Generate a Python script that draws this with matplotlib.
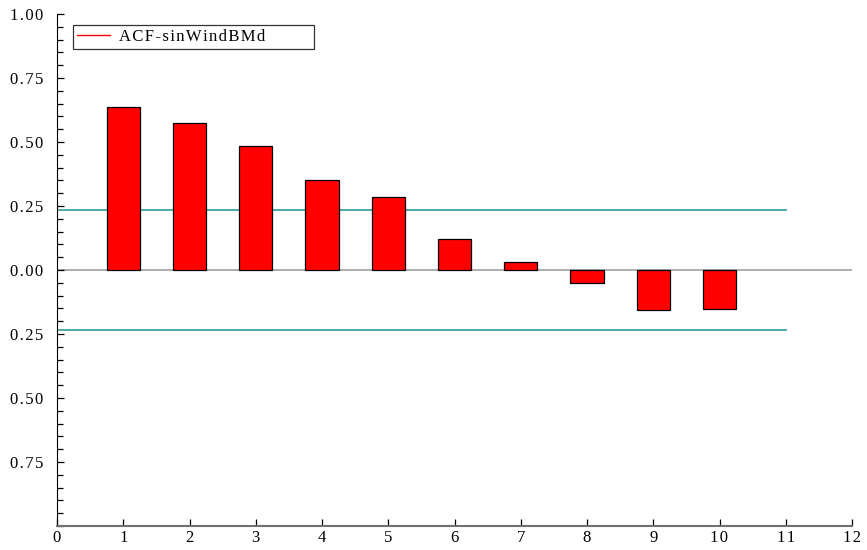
import matplotlib.pyplot as plt
from matplotlib.ticker import MultipleLocator, FuncFormatter

# autocorrelation by lag
lags = [1, 2, 3, 4, 5, 6, 7, 8, 9, 10]
acf = [0.637, 0.575, 0.484, 0.352, 0.287, 0.121, 0.030, -0.052, -0.157, -0.153]
conf = 0.236
conf_lags = [0, 11]
series_name = "ACF-sinWindBMd"

plt.rcParams['font.family'] = ['Liberation Serif', 'DejaVu Serif']

HAIR = "\u200a"


def spaced(s):
    # loose letter spacing, like the old plotting package
    return HAIR.join(s)


fig = plt.figure(figsize=(8.67, 5.5), dpi=100)
ax = fig.add_axes([57 / 867, 24 / 550, 795 / 867, 512 / 550])

ax.axhline(0, color="#a0a0a0", lw=1.2, zorder=1)
ax.plot(conf_lags, [conf, conf], color="#3fa3a3", lw=1.3, zorder=1)
ax.plot(conf_lags, [-conf, -conf], color="#3fa3a3", lw=1.3, zorder=1)
ax.bar(lags, acf, width=0.5, color="#ff0000", edgecolor="black", linewidth=0.9, zorder=2)

# legend entry is the series colour only
ax.plot([], [], color="#ff0000", lw=1, label=spaced(series_name) + " " * 11)
leg = ax.legend(loc="upper left", bbox_to_anchor=(0.02, 0.978), fontsize=12,
                frameon=True, fancybox=False, borderpad=0.22, handlelength=2.0,
                handletextpad=0.55, borderaxespad=0)
leg.get_frame().set_edgecolor("black")
leg.get_frame().set_linewidth(0.9)

ax.set_xlim(0, 12)
ax.set_ylim(-1, 1)
ax.xaxis.set_major_locator(MultipleLocator(1))
ax.yaxis.set_major_locator(MultipleLocator(0.25))
ax.yaxis.set_minor_locator(MultipleLocator(0.05))
ax.xaxis.set_major_formatter(FuncFormatter(lambda v, p: spaced(f"{v:.0f}")))
ax.yaxis.set_major_formatter(FuncFormatter(lambda v, p: "" if v <= -0.99 else spaced(f"{abs(v):.2f}")))

ax.spines["top"].set_visible(False)
ax.spines["right"].set_visible(False)
ax.spines["left"].set_color("black")
ax.spines["bottom"].set_color("#707070")
ax.spines["bottom"].set_linewidth(1.5)
ax.tick_params(axis="both", direction="in", labelsize=12, length=5, width=0.9)
ax.tick_params(axis="y", which="minor", direction="in", length=4, width=0.9)
ax.tick_params(axis="x", pad=3)
ax.tick_params(axis="y", pad=10)

fig.savefig("out.png", dpi=100)
